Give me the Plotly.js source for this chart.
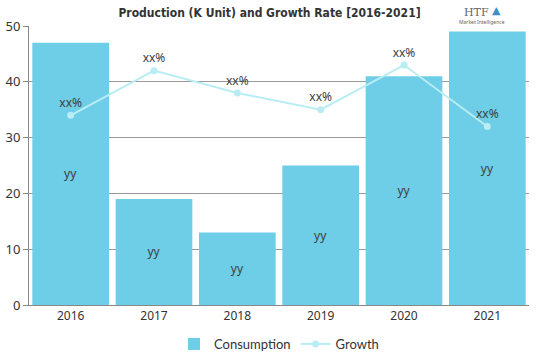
<!DOCTYPE html>
<html>
<head>
<meta charset="utf-8">
<script src="https://cdn.plot.ly/plotly-3.0.1.min.js"></script>
<style>html,body{margin:0;padding:0;background:#fff;}#chart{width:539px;height:359px;}</style>
</head>
<body>
<div id="chart"></div>
<script>
const years = ['2016', '2017', '2018', '2019', '2020', '2021'];
const consumption = [47, 19, 13, 25, 41, 49];
const growth = [34, 42, 38, 35, 43, 32];
const barLabels = ['yy', 'yy', 'yy', 'yy', 'yy', 'yy'];
const growthLabels = ['xx%', 'xx%', 'xx%', 'xx%', 'xx%', 'xx%'];
const yTicks = [0, 10, 20, 30, 40, 50];

const traces = [
  {
    type: 'bar', name: 'Consumption', x: years, y: consumption,
    text: barLabels, textposition: 'inside', insidetextanchor: 'middle',
    textfont: {family: 'Noto Sans, sans-serif', size: 12, color: '#404040'},
    marker: {color: '#6ECDE7'}, hoverinfo: 'none'
  },
  {
    type: 'scatter', mode: 'lines+markers+text', name: 'Growth', x: years, y: growth,
    text: growthLabels, textposition: 'top center',
    textfont: {family: 'Noto Sans, sans-serif', size: 12, color: '#404040'},
    line: {color: '#B8EEF3', width: 2}, marker: {color: '#B8EEF3', size: 7},
    hoverinfo: 'none'
  }
];

const layout = {
  width: 539, height: 359,
  margin: {l: 29, r: 10, t: 26, b: 54, autoexpand: false},
  paper_bgcolor: '#fff', plot_bgcolor: '#fff',
  bargap: 0.08,
  showlegend: true,
  legend: {orientation: 'h', x: 0.5, xanchor: 'center', yref: 'container', y: -0.012, yanchor: 'bottom',
    font: {family: 'Lato, sans-serif', size: 13, color: '#333'}},
  title: {text: '<b>Production (K Unit) and Growth Rate [2016-2021]</b>',
    x: 0.5, xanchor: 'center', y: 0.975, yanchor: 'top',
    font: {family: 'DejaVu Sans Condensed, Liberation Sans Narrow, sans-serif', size: 12, color: '#333'}},
  xaxis: {type: 'category', showline: true, linecolor: '#888', linewidth: 1,
    ticks: '', tickfont: {family: 'Noto Sans, sans-serif', size: 12, color: '#333'},
    showgrid: false, zeroline: false},
  yaxis: {range: [0, 50], tickvals: yTicks, showline: true, linecolor: '#888', linewidth: 1,
    ticks: 'outside', ticklen: 5, tickcolor: '#888',
    showgrid: true, gridcolor: '#999', gridwidth: 1, zeroline: false,
    tickfont: {family: 'Noto Sans, sans-serif', size: 13, color: '#333'}},
  annotations: [
    {xref: 'paper', yref: 'paper', x: 0.895, y: 1.05, xanchor: 'center', yanchor: 'middle',
     text: 'HTF', showarrow: false, font: {family: 'DejaVu Serif, serif', size: 11, color: '#666'}},
    {xref: 'paper', yref: 'paper', x: 0.935, y: 1.055, xanchor: 'center', yanchor: 'middle',
     text: '▲', showarrow: false, font: {family: 'DejaVu Sans, sans-serif', size: 11, color: '#3F8FC9'}},
    {xref: 'paper', yref: 'paper', x: 0.906, y: 1.014, xanchor: 'center', yanchor: 'middle',
     text: 'Market Intelligence', showarrow: false, font: {family: 'Noto Sans, sans-serif', size: 5, color: '#666'}}
  ]
};

Plotly.newPlot('chart', traces, layout, {displayModeBar: false, staticPlot: true});
</script>
</body>
</html>
